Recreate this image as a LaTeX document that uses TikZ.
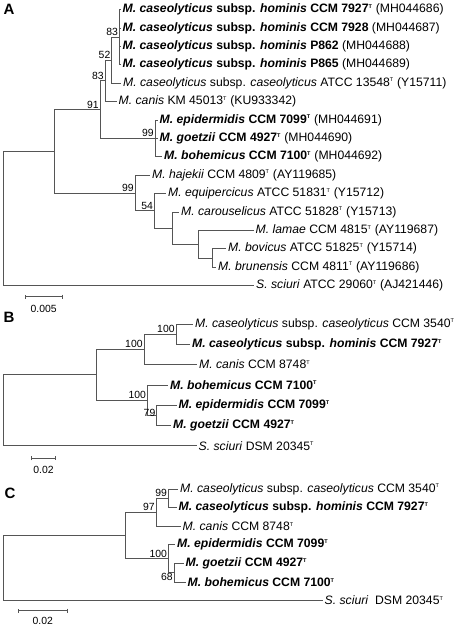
\documentclass[tikz,border=0pt]{standalone}
\usepackage{fontspec}
\setmainfont{Liberation Sans}
\setsansfont{Liberation Sans}
\usetikzlibrary{arrows.meta}
\definecolor{treegray}{RGB}{85,85,85}
\newcommand{\tipfont}{\fontsize{12.2}{14}\selectfont}
\newcommand{\bootfont}{\fontsize{10.4}{12}\selectfont}
\newcommand{\panelfont}{\fontsize{15}{17}\selectfont\bfseries}
\newcommand{\typestrain}{\textsuperscript{\fontsize{5.5}{6}\selectfont T}}

\begin{document}
\begin{tikzpicture}[x=1pt, y=-1pt,
    branch/.style={draw=treegray, line width=0.8pt},
    tip/.style={anchor=west, inner sep=2pt, font=\tipfont},
    boot/.style={anchor=south east, inner sep=1.2pt, font=\bootfont},
    panel/.style={font=\panelfont, inner sep=0pt},
    scalebar/.style={draw=treegray, line width=0.8pt, {Bar[width=4pt]}-{Bar[width=4pt]}},
    scaletext/.style={font=\bootfont, inner sep=0pt}]
  \useasboundingbox (0,0) rectangle (462,627);

  % ---- A
  \node[panel] (pA) at (9,9) {A};
  \coordinate (aRoot) at (3,218.4);
  \coordinate (aN1)   at (54,151.2);
  \coordinate (aN91)  at (100,109.55);
  \coordinate (aN83)  at (105,80.8);
  \coordinate (aN52)  at (111.7,60.1);
  \coordinate (aHom)  at (119.3,37.1);
  \coordinate (aEpi)  at (155,138.3);
  \coordinate (aHaj)  at (135,192.9);
  \coordinate (aN54)  at (154.3,210.75);
  \coordinate (aCar)  at (172.7,228);
  \coordinate (aLam)  at (198.3,244.1);
  \coordinate (aBov)  at (212.7,257.9);

  \coordinate (aT1)  at (120.5,9.5);
  \coordinate (aT2)  at (120.5,27.9);
  \coordinate (aT3)  at (120.5,46.3);
  \coordinate (aT4)  at (120.5,64.7);
  \coordinate (aT5)  at (121,83.1);
  \coordinate (aT6)  at (116.5,101.5);
  \coordinate (aT7)  at (157.5,119.9);
  \coordinate (aT8)  at (157.5,138.3);
  \coordinate (aT9)  at (162,156.7);
  \coordinate (aT10) at (150,175.1);
  \coordinate (aT11) at (166,193.5);
  \coordinate (aT12) at (179,211.9);
  \coordinate (aT13) at (253.5,230.3);
  \coordinate (aT14) at (226,248.7);
  \coordinate (aT15) at (216,267.1);
  \coordinate (aT16) at (254,285.5);

  \draw[branch] (aRoot) |- (aN1);
  \draw[branch] (aRoot) |- (aT16);
  \draw[branch] (aN1) |- (aN91);
  \draw[branch] (aN1) |- (aHaj);
  \draw[branch] (aN91) |- (aN83);
  \draw[branch] (aN91) |- (aEpi);
  \draw[branch] (aN83) |- (aN52);
  \draw[branch] (aN83) |- (aT6);
  \draw[branch] (aN52) |- (aHom);
  \draw[branch] (aN52) |- (aT5);
  \draw[branch] (aHom) |- (aT1);
  \draw[branch] (aHom) |- (aT2);
  \draw[branch] (aHom) |- (aT3);
  \draw[branch] (aHom) |- (aT4);
  \draw[branch] (aEpi) |- (aT7);
  \draw[branch] (aEpi) |- (aT8);
  \draw[branch] (aEpi) |- (aT9);
  \draw[branch] (aHaj) |- (aT10);
  \draw[branch] (aHaj) |- (aN54);
  \draw[branch] (aN54) |- (aT11);
  \draw[branch] (aN54) |- (aCar);
  \draw[branch] (aCar) |- (aT12);
  \draw[branch] (aCar) |- (aLam);
  \draw[branch] (aLam) |- (aT13);
  \draw[branch] (aLam) |- (aBov);
  \draw[branch] (aBov) |- (aT14);
  \draw[branch] (aBov) |- (aT15);

  \node[tip] (aL1)  at (aT1)  {\textbf{\textit{M. caseolyticus} subsp. \textit{hominis} CCM 7927\typestrain} (MH044686)};
  \node[tip] (aL2)  at (aT2)  {\textbf{\textit{M. caseolyticus} subsp. \textit{hominis} CCM 7928} (MH044687)};
  \node[tip] (aL3)  at (aT3)  {\textbf{\textit{M. caseolyticus} subsp. \textit{hominis} P862} (MH044688)};
  \node[tip] (aL4)  at (aT4)  {\textbf{\textit{M. caseolyticus} subsp. \textit{hominis} P865} (MH044689)};
  \node[tip] (aL5)  at (aT5)  {\textit{M. caseolyticus} subsp. \textit{caseolyticus} ATCC 13548\typestrain{} (Y15711)};
  \node[tip] (aL6)  at (aT6)  {\textit{M. canis} KM 45013\typestrain{} (KU933342)};
  \node[tip] (aL7)  at (aT7)  {\textbf{\textit{M. epidermidis} CCM 7099\typestrain} (MH044691)};
  \node[tip] (aL8)  at (aT8)  {\textbf{\textit{M. goetzii} CCM 4927\typestrain} (MH044690)};
  \node[tip] (aL9)  at (aT9)  {\textbf{\textit{M. bohemicus} CCM 7100\typestrain} (MH044692)};
  \node[tip] (aL10) at (aT10) {\textit{M. hajekii} CCM 4809\typestrain{} (AY119685)};
  \node[tip] (aL11) at (aT11) {\textit{M. equipercicus} ATCC 51831\typestrain{} (Y15712)};
  \node[tip] (aL12) at (aT12) {\textit{M. carouselicus} ATCC 51828\typestrain{} (Y15713)};
  \node[tip] (aL13) at (aT13) {\textit{M. lamae} CCM 4815\typestrain{} (AY119687)};
  \node[tip] (aL14) at (aT14) {\textit{M. bovicus} ATCC 51825\typestrain{} (Y15714)};
  \node[tip] (aL15) at (aT15) {\textit{M. brunensis} CCM 4811\typestrain{} (AY119686)};
  \node[tip] (aL16) at (aT16) {\textit{S. sciuri} ATCC 29060\typestrain{} (AJ421446)};

  \node[boot] (aB91) at (aN91) {91};
  \node[boot] (aB83) at (aN83) {83};
  \node[boot] (aB52) at (aN52) {52};
  \node[boot] (aBhom) at (aHom) {83};
  \node[boot] (aBepi) at (aEpi) {99};
  \node[boot] (aBhaj) at (aHaj) {99};
  \node[boot] (aB54) at (aN54) {54};

  \coordinate (aS1) at (25,296.7);
  \coordinate (aS2) at (62.3,296.7);
  \draw[scalebar] (aS1) -- (aS2);
  \node[scaletext] (aSL) at (43.6,308.5) {0.005};

  % ---- B
  \node[panel] (pB) at (9,317) {B};
  \coordinate (bRoot) at (3,410.3);
  \coordinate (bN1)   at (96.7,374.75);
  \coordinate (bN100a) at (144,349.4);
  \coordinate (bN100b) at (176,334.15);
  \coordinate (bN100c) at (147.3,400.1);
  \coordinate (bN79)  at (156.7,415.35);

  \coordinate (bT1) at (193,324);
  \coordinate (bT2) at (190,344.3);
  \coordinate (bT3) at (197,364.6);
  \coordinate (bT4) at (168,384.9);
  \coordinate (bT5) at (176.5,405.2);
  \coordinate (bT6) at (171,425.5);
  \coordinate (bT7) at (196.5,445.8);

  \draw[branch] (bRoot) |- (bN1);
  \draw[branch] (bRoot) |- (bT7);
  \draw[branch] (bN1) |- (bN100a);
  \draw[branch] (bN1) |- (bN100c);
  \draw[branch] (bN100a) |- (bN100b);
  \draw[branch] (bN100a) |- (bT3);
  \draw[branch] (bN100b) |- (bT1);
  \draw[branch] (bN100b) |- (bT2);
  \draw[branch] (bN100c) |- (bT4);
  \draw[branch] (bN100c) |- (bN79);
  \draw[branch] (bN79) |- (bT5);
  \draw[branch] (bN79) |- (bT6);

  \node[tip] (bL1) at (bT1) {\textit{M. caseolyticus} subsp. \textit{caseolyticus} CCM 3540\typestrain};
  \node[tip] (bL2) at (bT2) {\textbf{\textit{M. caseolyticus} subsp. \textit{hominis} CCM 7927\typestrain}};
  \node[tip] (bL3) at (bT3) {\textit{M. canis} CCM 8748\typestrain};
  \node[tip] (bL4) at (bT4) {\textbf{\textit{M. bohemicus} CCM 7100\typestrain}};
  \node[tip] (bL5) at (bT5) {\textbf{\textit{M. epidermidis} CCM 7099\typestrain}};
  \node[tip] (bL6) at (bT6) {\textbf{\textit{M. goetzii} CCM 4927\typestrain}};
  \node[tip] (bL7) at (bT7) {\textit{S. sciuri} DSM 20345\typestrain};

  \node[boot] (bBa) at (bN100a) {100};
  \node[boot] (bBb) at (bN100b) {100};
  \node[boot] (bBc) at (bN100c) {100};
  \node[boot, anchor=east, yshift=2pt] (bB79) at (bN79) {79};

  \coordinate (bS1) at (31,458.3);
  \coordinate (bS2) at (56,458.3);
  \draw[scalebar] (bS1) -- (bS2);
  \node[scaletext] (bSL) at (43.5,469.5) {0.02};

  % ---- C
  \node[panel] (pC) at (10,493) {C};
  \coordinate (cRoot) at (3,568);
  \coordinate (cN1)   at (125,535.5);
  \coordinate (cN97)  at (156,512.25);
  \coordinate (cN99)  at (168.3,498.3);
  \coordinate (cN100) at (168.3,558.75);
  \coordinate (cN68)  at (174,572.7);

  \coordinate (cT1) at (178,489);
  \coordinate (cT2) at (176.5,507.6);
  \coordinate (cT3) at (180.5,526.2);
  \coordinate (cT4) at (175,544.8);
  \coordinate (cT5) at (183.5,563.4);
  \coordinate (cT6) at (185.5,582);
  \coordinate (cT7) at (322.5,600.6);

  \draw[branch] (cRoot) |- (cN1);
  \draw[branch] (cRoot) |- (cT7);
  \draw[branch] (cN1) |- (cN97);
  \draw[branch] (cN1) |- (cN100);
  \draw[branch] (cN97) |- (cN99);
  \draw[branch] (cN97) |- (cT3);
  \draw[branch] (cN99) |- (cT1);
  \draw[branch] (cN99) |- (cT2);
  \draw[branch] (cN100) |- (cT4);
  \draw[branch] (cN100) |- (cN68);
  \draw[branch] (cN68) |- (cT5);
  \draw[branch] (cN68) |- (cT6);

  \node[tip] (cL1) at (cT1) {\textit{M. caseolyticus} subsp. \textit{caseolyticus} CCM 3540\typestrain};
  \node[tip] (cL2) at (cT2) {\textbf{\textit{M. caseolyticus} subsp. \textit{hominis} CCM 7927\typestrain}};
  \node[tip] (cL3) at (cT3) {\textit{M. canis} CCM 8748\typestrain};
  \node[tip] (cL4) at (cT4) {\textbf{\textit{M. epidermidis} CCM 7099\typestrain}};
  \node[tip] (cL5) at (cT5) {\textbf{\textit{M. goetzii} CCM 4927\typestrain}};
  \node[tip] (cL6) at (cT6) {\textbf{\textit{M. bohemicus} CCM 7100\typestrain}};
  \node[tip] (cL7) at (cT7) {\textit{S. sciuri}\ \ DSM 20345\typestrain};

  \node[boot] (cB97) at (cN97) {97};
  \node[boot] (cB99) at (cN99) {99};
  \node[boot] (cB100) at (cN100) {100};
  \node[boot] (cB68) at (cN68 |- cT6) {68};

  \coordinate (cS1) at (17.7,610.7);
  \coordinate (cS2) at (67.7,610.7);
  \draw[scalebar] (cS1) -- (cS2);
  \node[scaletext] (cSL) at (42.7,621) {0.02};
\end{tikzpicture}
\end{document}
